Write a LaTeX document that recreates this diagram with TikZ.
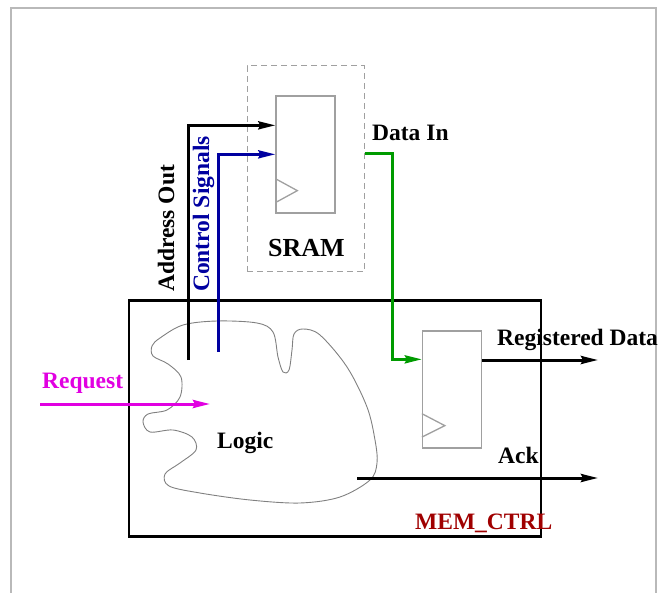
\documentclass[tikz,border=0pt]{standalone}
\usepackage{fontspec}
\setmainfont{Liberation Serif}
\usetikzlibrary{arrows.meta,calc}
\definecolor{sigblue}{RGB}{0,0,160}
\definecolor{sigmag}{RGB}{225,0,225}
\definecolor{siggreen}{RGB}{0,155,0}
\definecolor{darkred}{RGB}{160,0,0}
\definecolor{boxgray}{RGB}{160,160,160}
\definecolor{framegray}{RGB}{185,185,185}
\begin{document}
\begin{tikzpicture}[x=1pt,y=-1pt,
  lbl/.style={font=\fontsize{23.5}{28}\selectfont\bfseries, inner sep=0pt},
  sig/.style={line width=3pt, -{Stealth[length=17pt,width=8pt,inset=2pt]}},
  cell/.style={draw=boxgray, line width=1.3pt, minimum width=59pt, minimum height=117pt, inner sep=0pt},
  ]
\useasboundingbox (0,0) rectangle (658,593);
\draw[framegray, line width=2pt] (11,593) -- (11,8) -- (656,8) -- (656,593);

% boxes
\node[draw=boxgray, dash pattern=on 6pt off 4pt, line width=1pt, minimum width=117pt, minimum height=206pt, inner sep=0pt] (sramouter) at (305.5,169) {};
\node[cell] (sram) at (305.5,154.5) {};
\node[cell] (reg) at (452,389.5) {};
\node[draw, line width=2.5pt, minimum width=412pt, minimum height=236pt, inner sep=0pt] (memctrl) at (335,418.5) {};

% clock triangles
\draw[boxgray, line width=1.3pt] ($(sram.south west)+(0,-35)$) -- ++(22,12) -- ++(-22,12);
\draw[boxgray, line width=1.3pt] ($(reg.south west)+(0,-35)$) -- ++(23,12) -- ++(-23,11.5);

% logic blob
\draw[gray, line width=0.9pt] plot[smooth cycle, tension=0.55] coordinates {
 (160,338) (183,325) (217,321) (257,323) (273,332) (278,357) (283,372) (289,370)
 (292,350) (294,334) (303,329) (320,335) (347,367) (367,407) (375,440) (377,463)
 (370,480) (340,497) (300,503) (250,500) (200,493) (169,486) (165,474) (180,463)
 (196,450) (192,437) (173,430) (150,432) (143,422) (148,414) (167,410) (180,397)
 (181,377) (168,364) (153,356) (152,346)};

% signals
\coordinate (a0) at (188,360);
\draw[sig] (a0) |- ($(sram.north west)+(0,30)$);
\coordinate (c0) at (218,352);
\draw[sig, sigblue] (c0) |- ($(sram.north west)+(0,59)$);
\coordinate (g0) at ($(sramouter.east)+(0,-15)$);
\draw[sig, siggreen] (g0) -| ($(reg.north west)+(-29,29)$) -- ($(reg.north west)+(0,29)$);
\coordinate (rd) at (598,360);
\draw[sig] (reg.east |- rd) -- (rd);
\coordinate (k0) at (357,478);
\coordinate (k1) at (598,478);
\draw[sig] (k0) -- (k1);
\coordinate (r0) at (40,404);
\coordinate (r1) at (210,404);
\draw[sig, sigmag] (r0) -- (r1);

% labels
\node[lbl, anchor=base west] (datain) at (372,141) {Data In};
\node[lbl, anchor=base west] (regdata) at (497,345) {Registered Data};
\node[lbl, anchor=base west] (ack) at (498,463) {Ack};
\node[lbl, anchor=base west, text=darkred] (mem) at (415,529) {MEM\_CTRL};
\node[lbl, anchor=base west] (logic) at (217,448) {Logic};
\node[lbl, anchor=base west, font=\fontsize{26}{30}\selectfont\bfseries] (sramlbl) at (268,257) {SRAM};
\node[lbl, anchor=base west, text=sigmag] (req) at (42,388.5) {Request};
\node[lbl, anchor=base west, rotate=90] (addr) at (174,292) {Address Out};
\node[lbl, anchor=base west, rotate=90, text=sigblue] (ctrl) at (209,292) {Control Signals};
\end{tikzpicture}
\end{document}
